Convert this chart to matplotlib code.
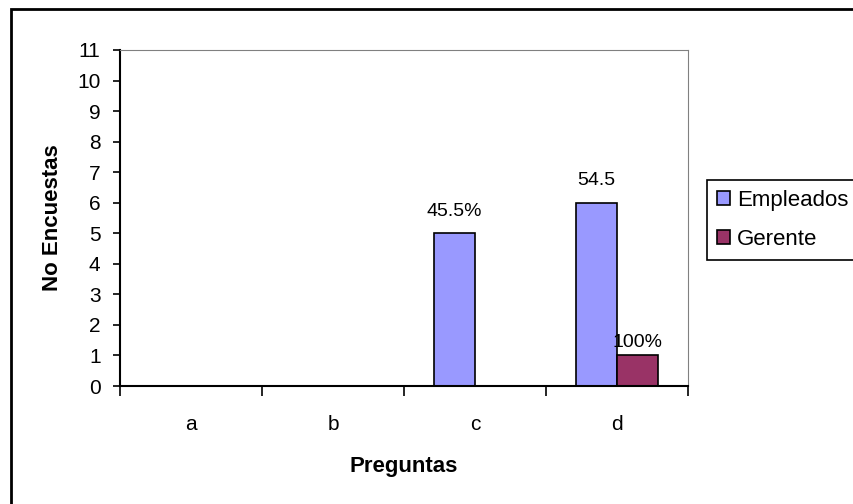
import numpy as np
import matplotlib.pyplot as plt
from matplotlib.patches import Rectangle

plt.rcParams['font.family'] = ['Liberation Sans', 'DejaVu Sans']

preguntas = ['a', 'b', 'c', 'd']
empleados = [0, 0, 5, 6]
gerente = [0, 0, 0, 1]
etiq_empleados = ['', '', '45.5%', '54.5']
etiq_gerente = ['', '', '', '100%']

fig = plt.figure(figsize=(8.54, 5.04), dpi=100)
ax = fig.add_axes([0.1405, 0.2341, 0.6651, 0.6667])

x = np.arange(len(preguntas))
w = 0.29
b1 = ax.bar(x - w / 2, empleados, w, color='#9999FF', edgecolor='black', linewidth=1.2, label='Empleados')
b2 = ax.bar(x + w / 2, gerente, w, color='#993366', edgecolor='black', linewidth=1.2, label='Gerente')

for rect, t in zip(b1, etiq_empleados):
    if t:
        ax.text(rect.get_x() + rect.get_width() / 2, rect.get_height() + 0.45, t,
                ha='center', va='bottom', fontsize=14)
for rect, t in zip(b2, etiq_gerente):
    if t:
        ax.text(rect.get_x() + rect.get_width() / 2, rect.get_height() + 0.14, t,
                ha='center', va='bottom', fontsize=14)

ax.set_xlim(-0.5, len(preguntas) - 0.5)
ax.set_ylim(0, 11)
ax.set_yticks(range(0, 12))
ax.set_xticks(np.arange(-0.5, len(preguntas), 1.0))
ax.set_xticklabels([])
ax.set_xticks(x, minor=True)
ax.set_xticklabels(preguntas, minor=True)
ax.tick_params(axis='x', which='major', length=7, width=1.2, direction='out')
ax.tick_params(axis='x', which='minor', length=0, pad=21, labelsize=15)
ax.tick_params(axis='y', length=5, width=1.2, pad=9, labelsize=15)

ax.spines['left'].set_linewidth(1.5)
ax.spines['bottom'].set_linewidth(1.5)
ax.spines['top'].set_color('#808080')
ax.spines['right'].set_color('#808080')

ax.set_xlabel('Preguntas', fontsize=16, fontweight='bold', labelpad=16)
ax.set_ylabel('No Encuestas', fontsize=16, fontweight='bold', labelpad=10)

leg = fig.legend(loc='upper left', bbox_to_anchor=(707 / 854, 1 - 180 / 504),
                 fontsize=16, handlelength=0.6, handleheight=0.6, handletextpad=0.3,
                 labelspacing=0.8, borderpad=0.45, borderaxespad=0, fancybox=False,
                 framealpha=1, edgecolor='black')
leg.get_frame().set_linewidth(1.2)

fig.patches.append(Rectangle((11 / 854, -0.05), 1.0, 1.05 - 9 / 504, transform=fig.transFigure,
                             fill=False, edgecolor='black', linewidth=2))

fig.savefig('out.png', dpi=100)
